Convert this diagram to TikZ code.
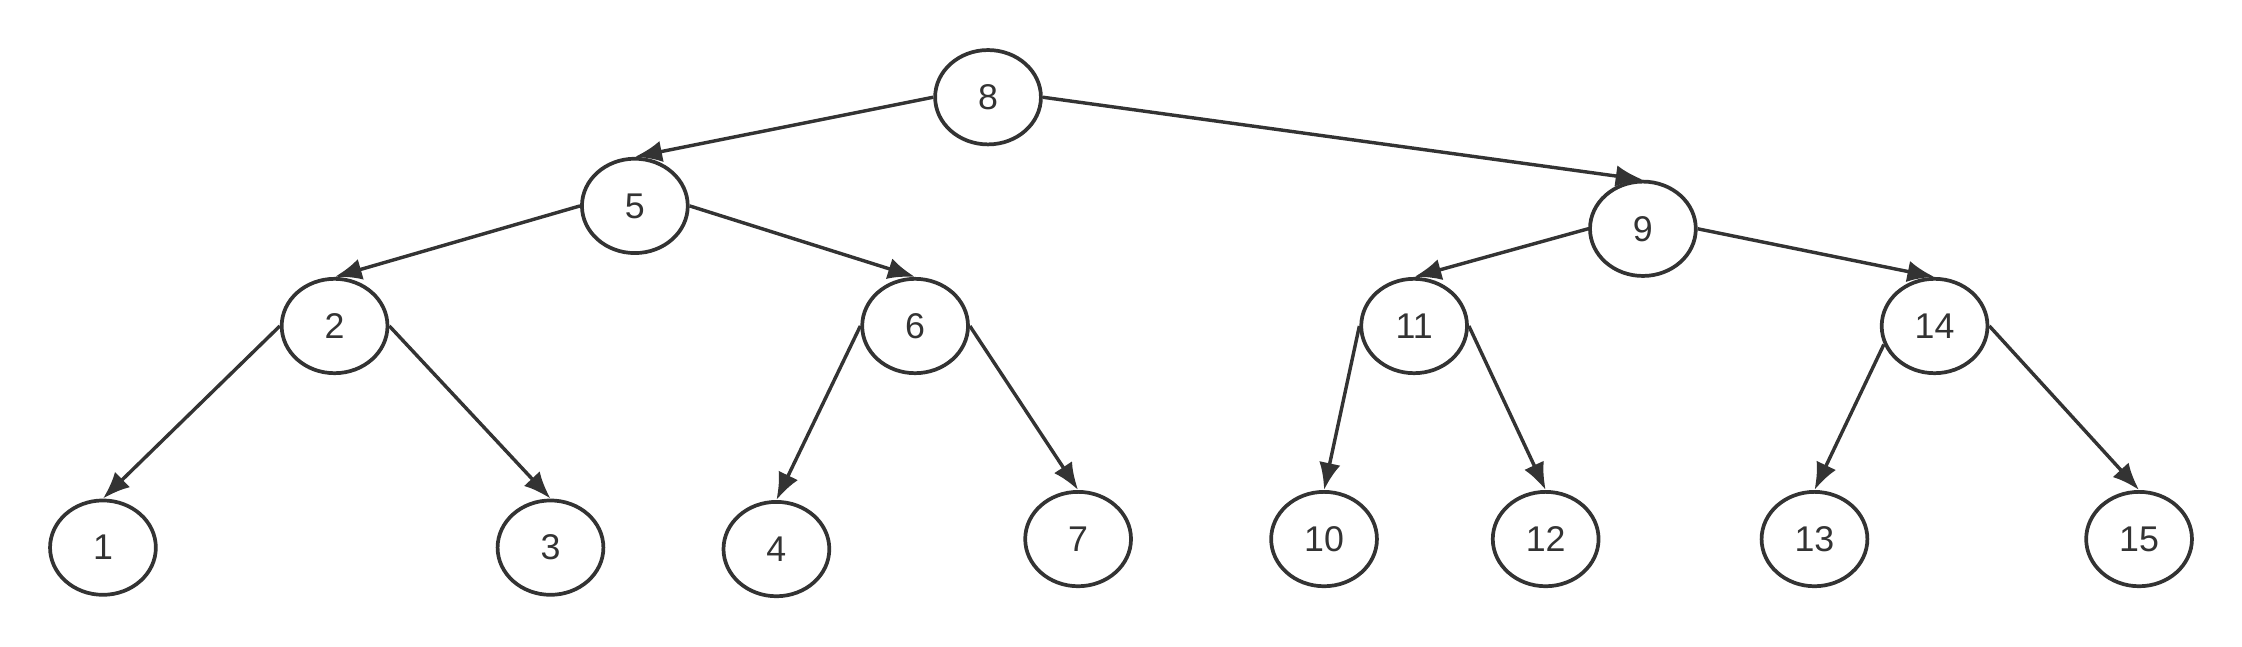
\documentclass[tikz,border=0pt]{standalone}
\usepackage{fontspec}
\setmainfont{Liberation Sans}
\usetikzlibrary{shapes.geometric, arrows.meta}

\definecolor{ink}{HTML}{333333}

\begin{document}
\begin{tikzpicture}[x=1pt, y=-1pt,
	key/.style={ellipse, draw=ink, line width=2.6pt, minimum width=74pt, minimum height=66pt, inner sep=0pt, text=ink, font=\fontsize{25}{25}\selectfont},
	edge/.style={draw=ink, line width=2.4pt, arrows={-{Latex[length=19pt, width=15pt]}}}]
	\useasboundingbox (0, 0) rectangle (1568, 452);

	% root and second level
	\node [key] (n8) at (691, 68) {8};
	\node [key] (n5) at (444, 144) {5};
	\node [key] (n9) at (1149, 160) {9};

	% third level
	\node [key] (n2) at (234, 228) {2};
	\node [key] (n6) at (640, 228) {6};
	\node [key] (n11) at (989, 228) {11};
	\node [key] (n14) at (1353, 228) {14};

	% leaves
	\node [key] (n1) at (72, 383) {1};
	\node [key] (n3) at (385, 383) {3};
	\node [key] (n4) at (543, 384) {4};
	\node [key] (n7) at (754, 377) {7};
	\node [key] (n10) at (926, 377) {10};
	\node [key] (n12) at (1081, 377) {12};
	\node [key] (n13) at (1269, 377) {13};
	\node [key] (n15) at (1496, 377) {15};

	\draw [edge] (n8.west) -- (n5.north);
	\draw [edge] (n8.east) -- (n9.north);
	\draw [edge] (n5.west) -- (n2.north);
	\draw [edge] (n5.east) -- (n6.north);
	\draw [edge] (n9.west) -- (n11.north);
	\draw [edge] (n9.east) -- (n14.north);
	\draw [edge] (n2.west) -- (n1.north);
	\draw [edge] (n2.east) -- (n3.north);
	\draw [edge] (n6.west) -- (n4.north);
	\draw [edge] (n6.east) -- (n7.north);
	\draw [edge] (n11.west) -- (n10.north);
	\draw [edge] (n11.east) -- (n12.north);
	\draw [edge] (n14.200) -- (n13.north);
	\draw [edge] (n14.east) -- (n15.north);
\end{tikzpicture}
\end{document}
